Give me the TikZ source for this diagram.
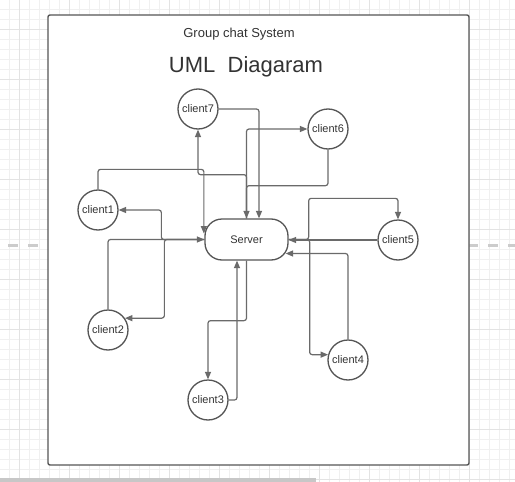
\documentclass[tikz,border=0pt]{standalone}
\usepackage{fontspec}
\setmainfont{Liberation Sans}
\usetikzlibrary{arrows.meta,positioning,calc}

\definecolor{gridlight}{HTML}{F0F0F0}
\definecolor{griddark}{HTML}{E3E3E3}
\definecolor{linegray}{HTML}{6A6A6A}
\definecolor{edgegray}{HTML}{555555}
\definecolor{textgray}{HTML}{333333}

\begin{document}
\begin{tikzpicture}[
    x=1pt, y=-1pt,
    client/.style={circle, draw=edgegray, line width=1.3pt, fill=white, minimum size=40pt, inner sep=0pt, text=textgray, font=\fontsize{11}{13}\selectfont},
    server/.style={rectangle, rounded corners=17pt, draw=edgegray, line width=1.3pt, fill=white, minimum width=83pt, minimum height=41pt, text=textgray, font=\fontsize{11}{13}\selectfont},
    link/.style={draw=linegray, line width=1.2pt, rounded corners=2.5pt, -{Triangle[length=7.5pt,width=6pt]}},
    caption/.style={text=textgray, inner sep=0pt},
]
    % Canvas
    \useasboundingbox (0,0) rectangle (515,482);
    \fill[white] (0,0) rectangle (515,482);
    \foreach \gx in {9,19,...,509} \draw[gridlight, line width=0.8pt] (\gx,0) -- (\gx,482);
    \foreach \gy in {9,19,...,479} \draw[gridlight, line width=0.8pt] (0,\gy) -- (515,\gy);
    \foreach \gx in {19,69,...,469} \draw[griddark, line width=0.8pt] (\gx,0) -- (\gx,482);
    \foreach \gy in {29,79,...,479} \draw[griddark, line width=0.8pt] (0,\gy) -- (515,\gy);
    \draw[black!20, line width=2.5pt, dash pattern=on 10pt off 10pt] (8,245.5) -- (515,245.5);
    \fill[black!22] (0,478) rectangle (316,482);

    % Frame
    \draw[edgegray, fill=white, line width=1.4pt, rounded corners=2pt] (48,15) rectangle (469,465);

    % Titles
    \node[caption, font=\fontsize{13}{15}\selectfont] (subtitle) at (239,34) {Group chat System};
    \node[caption, font=\fontsize{22}{26}\selectfont] (heading) at (246,67) {UML\ \ Diagaram};

    % Server and clients
    \node[server] (server) at (246.5,239.5) {Server};
    \node[client] (client7) at (198,109) {client7};
    \node[client] (client6) at (328,129) {client6};
    \node[client] (client1) at (98,210) {client1};
    \node[client] (client5) at (398,240) {client5};
    \node[client] (client2) at (108,330) {client2};
    \node[client] (client3) at (208,400) {client3};
    \node[client] (client4) at (348,360) {client4};

    % Top connections
    \draw[link] (client7.east) -| ($(server.north)+(12.5,0)$);
    \draw[link] (server.north) |- ($(client7.south)+(0,45)$) -- (client7.south);
    \draw[link] (server.north) |- (client6.west);
    \draw[link] (client6.south) -- ++(0,36) -| (server.north);

    % Left connections
    \draw[link] (client1.north) -- ++(0,-20) -| ($(server.west)+(-0.5,-6)$);
    \draw[link] (server.west) -- ++(-43,0) |- (client1.east);
    \draw[link] (client2.north) |- (server.west);
    \draw[link] (server.west) -- ++(-40,0) |- (client2.35);

    % Bottom connections
    \draw[link] (server.south) -- ++(0,60) -| (client3.north);
    \draw[link] (client3.east) -| ($(server.south)+(-9.5,0)$);

    % Right connections
    \draw[link] (client5.west) -- (client5.west -| server.east);
    \draw[link] (server.east) -- ++(20,0) |- ($(client5.north)+(0,-21)$) -- (client5.north);
    \draw[link] (server.east) -- ++(21,0) |- (client4.165);
    \draw[link] (client4.north) |- ($(server.east)+(-3,14)$);
\end{tikzpicture}
\end{document}
